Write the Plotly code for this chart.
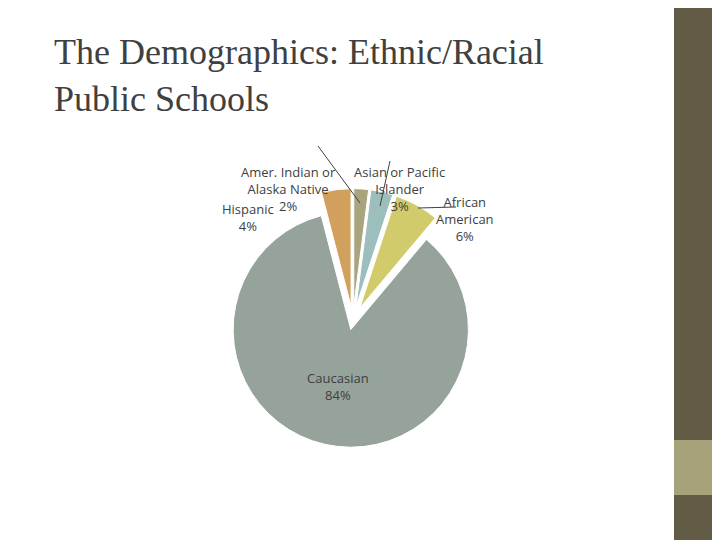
import plotly.graph_objects as go

labels = ["Amer. Indian or<br>Alaska Native", "Asian or Pacific<br>Islander", "African<br>American", "Caucasian", "Hispanic"]
values = [2, 3, 6, 84, 4]
colors = ["#A8A47E", "#9CBEBD", "#D2CB6C", "#95A39B", "#D1A05D"]
# label anchor points (pixels) for the small slices
label_pos = {0: (280, 153), 1: (392, 153), 2: (488, 211), 4: (240, 210)}
arrow_to = {0: (352, 195), 1: (372, 198), 2: (410, 200), 4: None}

fig = go.Figure(go.Pie(
    labels=labels, values=values, sort=False, direction="clockwise", rotation=0,
    marker=dict(colors=colors, line=dict(color="white", width=1)),
    pull=[0.12, 0.12, 0.12, 0.08, 0.12],
    texttemplate=["", "", "", "%{label}<br>%{value}%", ""], textposition="inside",
    insidetextorientation="horizontal",
    textfont=dict(family="Open Sans", size=13, color="#404040"),
    domain=dict(x=[0.296, 0.662], y=[0.176, 0.667]),
    showlegend=False, hoverinfo="skip",
))

for i, (px, py) in label_pos.items():
    txt = f"{labels[i]}<br>{values[i]}%"
    fig.add_annotation(text=txt, xref="paper", yref="paper", x=px / 720, y=1 - py / 540,
                       showarrow=False, font=dict(family="Open Sans", size=13, color="#404040"))
    if arrow_to[i]:
        ax, ay = arrow_to[i]
        fig.add_shape(type="line", xref="paper", yref="paper",
                      x0=(px + (30 if i == 0 else -10 if i == 1 else -40)) / 720,
                      y0=1 - (py + (-15 if i == 0 else 0 if i == 1 else -12)) / 540,
                      x1=ax / 720, y1=1 - ay / 540, line=dict(color="#404040", width=1))

fig.add_shape(type="rect", xref="paper", yref="paper", x0=666/720, x1=1, y0=0, y1=1,
              fillcolor="#625B45", line_width=0, layer="below")
fig.add_shape(type="rect", xref="paper", yref="paper", x0=666/720, x1=1, y0=1-487/540, y1=1-432/540,
              fillcolor="#A6A27A", line_width=0, layer="below")

fig.add_annotation(text="The Demographics: Ethnic/Racial<br>Public Schools", xref="paper", yref="paper",
                   x=44/720, y=1-22/540, xanchor="left", yanchor="top", align="left", showarrow=False,
                   font=dict(family="Liberation Serif", size=36, color="#404040"))

fig.update_layout(width=720, height=540, margin=dict(l=0, r=0, t=0, b=0),
                  paper_bgcolor="white")
fig.write_html("out.html")
